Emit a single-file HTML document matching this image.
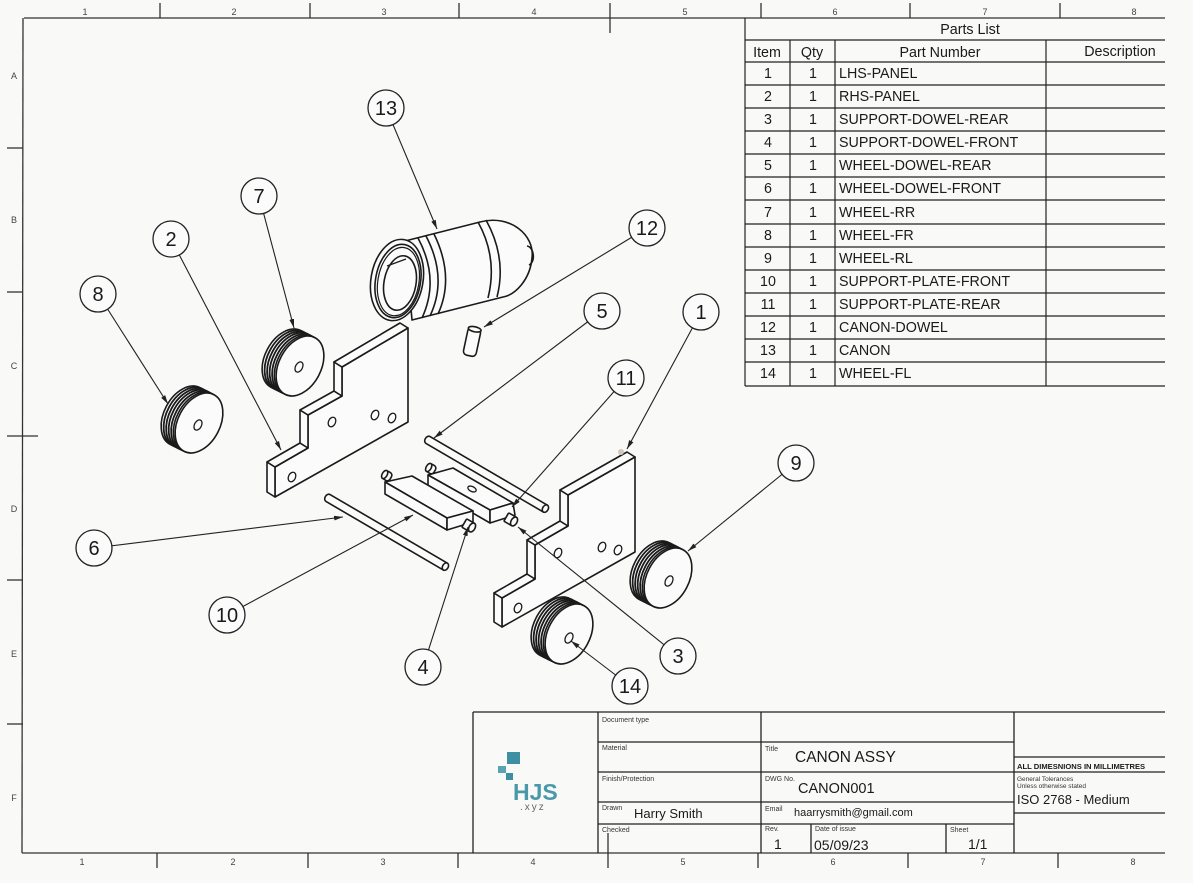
<!DOCTYPE html>
<html><head><meta charset="utf-8">
<style>
html,body{margin:0;padding:0;background:#f9f9f8;}
svg{display:block;font-family:"Liberation Sans",Arial,sans-serif;}
</style></head>
<body>
<svg width="1193" height="883" viewBox="0 0 1193 883" xmlns="http://www.w3.org/2000/svg">
<defs>
<marker id="ar" markerWidth="10" markerHeight="6" refX="9" refY="3" orient="auto" markerUnits="userSpaceOnUse">
<path d="M0,0.6 L9,3 L0,5.4 Z" fill="#222"/>
</marker>
</defs>
<rect width="1193" height="883" fill="#f9f9f8"/>

<!-- Frame -->
<g stroke="#333" stroke-width="1.3" fill="none">
<line x1="24" y1="18" x2="1165" y2="18"/>
<line x1="23" y1="18" x2="22" y2="853"/>
<line x1="22" y1="853" x2="1165" y2="853"/>
<line x1="160" y1="3" x2="160" y2="18"/>
<line x1="310" y1="3" x2="310" y2="18"/>
<line x1="459" y1="3" x2="459" y2="18"/>
<line x1="610" y1="3" x2="610" y2="33"/>
<line x1="761" y1="3" x2="761" y2="18"/>
<line x1="910" y1="3" x2="910" y2="18"/>
<line x1="1060" y1="3" x2="1060" y2="18"/>
<line x1="157" y1="853" x2="157" y2="868"/>
<line x1="308" y1="853" x2="308" y2="868"/>
<line x1="458" y1="853" x2="458" y2="868"/>
<line x1="608" y1="833" x2="608" y2="868"/>
<line x1="758" y1="853" x2="758" y2="868"/>
<line x1="908" y1="853" x2="908" y2="868"/>
<line x1="1058" y1="853" x2="1058" y2="868"/>
<line x1="7" y1="148" x2="23" y2="148"/>
<line x1="7" y1="292" x2="23" y2="292"/>
<line x1="7" y1="436" x2="38" y2="436"/>
<line x1="7" y1="580" x2="23" y2="580"/>
<line x1="7" y1="724" x2="23" y2="724"/>
</g>
<g font-size="9" fill="#444" text-anchor="middle">
<text x="85" y="15">1</text><text x="234" y="15">2</text><text x="384" y="15">3</text><text x="534" y="15">4</text>
<text x="685" y="15">5</text><text x="835" y="15">6</text><text x="985" y="15">7</text><text x="1134" y="15">8</text>
<text x="82" y="865">1</text><text x="233" y="865">2</text><text x="383" y="865">3</text><text x="533" y="865">4</text>
<text x="683" y="865">5</text><text x="833" y="865">6</text><text x="983" y="865">7</text><text x="1133" y="865">8</text>
<text x="14" y="79">A</text><text x="14" y="223">B</text><text x="14" y="369">C</text>
<text x="14" y="512">D</text><text x="14" y="657">E</text><text x="14" y="801">F</text>
</g>

<!-- Parts list -->
<g stroke="#222" stroke-width="1.2" fill="none">
<line x1="745" y1="18" x2="745" y2="386"/>
<line x1="790" y1="40" x2="790" y2="386"/>
<line x1="835" y1="40" x2="835" y2="386"/>
<line x1="1046" y1="40" x2="1046" y2="386"/>
<line x1="745" y1="40" x2="1165" y2="40"/>
<line x1="745" y1="62" x2="1165" y2="62"/>
<line x1="745" y1="85" x2="1165" y2="85"/>
<line x1="745" y1="108" x2="1165" y2="108"/>
<line x1="745" y1="131" x2="1165" y2="131"/>
<line x1="745" y1="154" x2="1165" y2="154"/>
<line x1="745" y1="177" x2="1165" y2="177"/>
<line x1="745" y1="200" x2="1165" y2="200"/>
<line x1="745" y1="224" x2="1165" y2="224"/>
<line x1="745" y1="247" x2="1165" y2="247"/>
<line x1="745" y1="270" x2="1165" y2="270"/>
<line x1="745" y1="293" x2="1165" y2="293"/>
<line x1="745" y1="316" x2="1165" y2="316"/>
<line x1="745" y1="339" x2="1165" y2="339"/>
<line x1="745" y1="362" x2="1165" y2="362"/>
<line x1="745" y1="386" x2="1165" y2="386"/>
</g>
<g font-size="14.3" fill="#1a1a1a">
<text x="970" y="34" text-anchor="middle">Parts List</text>
<text x="767" y="57" text-anchor="middle">Item</text>
<text x="812" y="57" text-anchor="middle">Qty</text>
<text x="940" y="57" text-anchor="middle">Part Number</text>
<text x="1120" y="56" text-anchor="middle">Description</text>
<g text-anchor="middle">
<text x="768" y="78">1</text><text x="768" y="101">2</text><text x="768" y="124">3</text><text x="768" y="147">4</text>
<text x="768" y="170">5</text><text x="768" y="193">6</text><text x="768" y="217">7</text><text x="768" y="240">8</text>
<text x="768" y="263">9</text><text x="768" y="286">10</text><text x="768" y="309">11</text><text x="768" y="332">12</text>
<text x="768" y="355">13</text><text x="768" y="378">14</text>
<text x="813" y="78">1</text><text x="813" y="101">1</text><text x="813" y="124">1</text><text x="813" y="147">1</text>
<text x="813" y="170">1</text><text x="813" y="193">1</text><text x="813" y="217">1</text><text x="813" y="240">1</text>
<text x="813" y="263">1</text><text x="813" y="286">1</text><text x="813" y="309">1</text><text x="813" y="332">1</text>
<text x="813" y="355">1</text><text x="813" y="378">1</text>
</g>
<text x="839" y="78">LHS-PANEL</text>
<text x="839" y="101">RHS-PANEL</text>
<text x="839" y="124">SUPPORT-DOWEL-REAR</text>
<text x="839" y="147">SUPPORT-DOWEL-FRONT</text>
<text x="839" y="170">WHEEL-DOWEL-REAR</text>
<text x="839" y="193">WHEEL-DOWEL-FRONT</text>
<text x="839" y="217">WHEEL-RR</text>
<text x="839" y="240">WHEEL-FR</text>
<text x="839" y="263">WHEEL-RL</text>
<text x="839" y="286">SUPPORT-PLATE-FRONT</text>
<text x="839" y="309">SUPPORT-PLATE-REAR</text>
<text x="839" y="332">CANON-DOWEL</text>
<text x="839" y="355">CANON</text>
<text x="839" y="378">WHEEL-FL</text>
</g>

<!-- Parts drawing -->
<g stroke="#1a1a1a" stroke-width="1.6" fill="#fbfbfb" stroke-linejoin="round">

<!-- Cannon 13 -->
<path d="M405,241 L480,222 C510,214 535,235 532,258 C530,280 515,295 503,297 L412,320 Z"/>
<path d="M527,246 C534,247 536,262 529,265" fill="none"/>
<path d="M478,222 Q498,258 488,298" fill="none"/>
<path d="M486,220 Q507,258 497,297" fill="none"/>
<path d="M418,238 Q440,279 422,318" fill="none"/>
<path d="M426,236 Q448,278 430,316" fill="none"/>
<path d="M434,234 Q455,277 438,314" fill="none"/>
<ellipse cx="397" cy="280" rx="26" ry="41" transform="rotate(10 397 280)"/>
<ellipse cx="398" cy="281" rx="22.5" ry="37" transform="rotate(10 398 281)" fill="none"/>
<ellipse cx="398.5" cy="281.5" rx="20.5" ry="34.5" transform="rotate(10 398 281)" fill="none" stroke-width="1.2"/>
<ellipse cx="400" cy="283" rx="16" ry="27.5" transform="rotate(10 400 283)"/>
<line x1="387" y1="266" x2="406" y2="259" stroke-width="1.2"/>

<!-- Dowel 12 -->
<g transform="translate(472,342) rotate(12)">
<rect x="-6.5" y="-14" width="13" height="28" rx="4"/>
<ellipse cx="0" cy="-13" rx="6.5" ry="2.5"/>
</g>

<!-- Wheel 7 -->
<g transform="translate(300,366)">
<ellipse cx="0" cy="0" rx="21" ry="32" transform="translate(-14 -7) rotate(28)"/>
<ellipse cx="0" cy="0" rx="21" ry="32" transform="translate(-11.5 -5.8) rotate(28)" stroke-width="1.8"/>
<ellipse cx="0" cy="0" rx="21" ry="32" transform="translate(-9 -4.5) rotate(28)" stroke-width="1.8"/>
<ellipse cx="0" cy="0" rx="21" ry="32" transform="translate(-6.5 -3.3) rotate(28)" stroke-width="1.8"/>
<ellipse cx="0" cy="0" rx="21" ry="32" transform="translate(-4 -2) rotate(28)" stroke-width="1.8"/>
<ellipse cx="0" cy="0" rx="21" ry="32" transform="translate(-1.8 -0.9) rotate(28)" stroke-width="1.6"/>
<ellipse cx="0" cy="0" rx="21" ry="32" transform="rotate(28)"/>
<ellipse cx="-1" cy="1" rx="3.5" ry="5.5" transform="rotate(28 -1 1)" stroke-width="1.3"/>
</g>
<!-- Wheel 8 -->
<g transform="translate(199,423)">
<ellipse cx="0" cy="0" rx="21" ry="32" transform="translate(-14 -7) rotate(28)"/>
<ellipse cx="0" cy="0" rx="21" ry="32" transform="translate(-11.5 -5.8) rotate(28)" stroke-width="1.8"/>
<ellipse cx="0" cy="0" rx="21" ry="32" transform="translate(-9 -4.5) rotate(28)" stroke-width="1.8"/>
<ellipse cx="0" cy="0" rx="21" ry="32" transform="translate(-6.5 -3.3) rotate(28)" stroke-width="1.8"/>
<ellipse cx="0" cy="0" rx="21" ry="32" transform="translate(-4 -2) rotate(28)" stroke-width="1.8"/>
<ellipse cx="0" cy="0" rx="21" ry="32" transform="translate(-1.8 -0.9) rotate(28)" stroke-width="1.6"/>
<ellipse cx="0" cy="0" rx="21" ry="32" transform="rotate(28)"/>
<ellipse cx="-1" cy="2" rx="3.5" ry="5.5" transform="rotate(28 -1 2)" stroke-width="1.3"/>
</g>

<!-- Panel 2 (RHS) -->
<polygon points="275,467 308,448 308,415 342,396 342,367 408,328 408,422 275,497"/>
<polygon points="275,467 275,497 267,492 267,462"/>
<polygon points="275,467 308,448 300,443 267,462"/>
<polygon points="308,448 308,415 300,410 300,443"/>
<polygon points="308,415 342,396 334,391 300,410"/>
<polygon points="342,396 342,367 334,362 334,391"/>
<polygon points="342,367 408,328 400,323 334,362"/>
<g stroke-width="1.3">
<ellipse cx="292" cy="477" rx="3.5" ry="5" transform="rotate(25 292 477)"/>
<ellipse cx="332" cy="422" rx="3.5" ry="5" transform="rotate(25 332 422)"/>
<ellipse cx="375" cy="415" rx="3.5" ry="5" transform="rotate(25 375 415)"/>
<ellipse cx="392" cy="418" rx="3.5" ry="5" transform="rotate(25 392 418)"/>
</g>

<!-- Dowel 5 -->
<g transform="translate(428,440) rotate(30.3)">
<path d="M0,-4 L136,-4 L136,4 L0,4 A3,4 0 0 1 0,-4 Z"/>
<ellipse cx="136" cy="0" rx="2.8" ry="4"/>
</g>

<!-- Plate 11 -->
<polygon points="428,475 453,468 513,503 490,510"/>
<polygon points="428,475 490,510 490,523 428,487"/>
<polygon points="490,510 513,503 515,515 490,523"/>
<ellipse cx="472" cy="489" rx="4.5" ry="2.5" transform="rotate(25 472 489)" stroke-width="1.3"/>
<g transform="translate(433,470) rotate(30)"><rect x="-6" y="-4.5" width="8" height="9" rx="3"/><ellipse cx="-5" cy="0" rx="2.5" ry="4.5"/></g>
<g transform="translate(508,518) rotate(30)"><rect x="-2" y="-4.8" width="9" height="9.6" rx="1"/><ellipse cx="7" cy="0" rx="3" ry="4.8"/></g>

<!-- Plate 10 -->
<polygon points="385,482 412,476 473,511 447,518"/>
<polygon points="385,482 447,518 447,530 385,494"/>
<polygon points="447,518 473,511 473,522 447,530"/>
<g transform="translate(389,477) rotate(30)"><rect x="-6" y="-4.5" width="8" height="9" rx="3"/><ellipse cx="-5" cy="0" rx="2.5" ry="4.5"/></g>
<g transform="translate(466,524) rotate(30)"><rect x="-2" y="-4.8" width="9" height="9.6" rx="1"/><ellipse cx="7" cy="0" rx="3" ry="4.8"/></g>

<!-- Dowel 6 -->
<g transform="translate(328,498) rotate(30.3)">
<path d="M0,-4 L136,-4 L136,4 L0,4 A3,4 0 0 1 0,-4 Z"/>
<ellipse cx="136" cy="0" rx="2.8" ry="4"/>
</g>

<!-- Panel 1 (LHS) -->
<polygon points="502,598 535,579 535,545 568,526 568,495 635,457 635,552 502,627"/>
<polygon points="502,598 502,627 494,622 494,593"/>
<polygon points="502,598 535,579 527,574 494,593"/>
<polygon points="535,579 535,545 527,540 527,574"/>
<polygon points="535,545 568,526 560,521 527,540"/>
<polygon points="568,526 568,495 560,490 560,521"/>
<polygon points="568,495 635,457 627,452 560,490"/>
<g stroke-width="1.3">
<ellipse cx="518" cy="608" rx="3.5" ry="5" transform="rotate(25 518 608)"/>
<ellipse cx="558" cy="553" rx="3.5" ry="5" transform="rotate(25 558 553)"/>
<ellipse cx="602" cy="547" rx="3.5" ry="5" transform="rotate(25 602 547)"/>
<ellipse cx="618" cy="550" rx="3.5" ry="5" transform="rotate(25 618 550)"/>
</g>
<circle cx="621" cy="452" r="3" fill="#cfc8bd" stroke="none"/>

<!-- Wheel 9 -->
<g transform="translate(668,578)">
<ellipse cx="0" cy="0" rx="21" ry="32" transform="translate(-14 -7) rotate(28)"/>
<ellipse cx="0" cy="0" rx="21" ry="32" transform="translate(-11.5 -5.8) rotate(28)" stroke-width="1.8"/>
<ellipse cx="0" cy="0" rx="21" ry="32" transform="translate(-9 -4.5) rotate(28)" stroke-width="1.8"/>
<ellipse cx="0" cy="0" rx="21" ry="32" transform="translate(-6.5 -3.3) rotate(28)" stroke-width="1.8"/>
<ellipse cx="0" cy="0" rx="21" ry="32" transform="translate(-4 -2) rotate(28)" stroke-width="1.8"/>
<ellipse cx="0" cy="0" rx="21" ry="32" transform="translate(-1.8 -0.9) rotate(28)" stroke-width="1.6"/>
<ellipse cx="0" cy="0" rx="21" ry="32" transform="rotate(28)"/>
<ellipse cx="1" cy="3" rx="3.5" ry="5.5" transform="rotate(28 1 3)" stroke-width="1.3"/>
</g>
<!-- Wheel 14 -->
<g transform="translate(569,634)">
<ellipse cx="0" cy="0" rx="21" ry="32" transform="translate(-14 -7) rotate(28)"/>
<ellipse cx="0" cy="0" rx="21" ry="32" transform="translate(-11.5 -5.8) rotate(28)" stroke-width="1.8"/>
<ellipse cx="0" cy="0" rx="21" ry="32" transform="translate(-9 -4.5) rotate(28)" stroke-width="1.8"/>
<ellipse cx="0" cy="0" rx="21" ry="32" transform="translate(-6.5 -3.3) rotate(28)" stroke-width="1.8"/>
<ellipse cx="0" cy="0" rx="21" ry="32" transform="translate(-4 -2) rotate(28)" stroke-width="1.8"/>
<ellipse cx="0" cy="0" rx="21" ry="32" transform="translate(-1.8 -0.9) rotate(28)" stroke-width="1.6"/>
<ellipse cx="0" cy="0" rx="21" ry="32" transform="rotate(28)"/>
<ellipse cx="0" cy="4" rx="3.5" ry="5.5" transform="rotate(28 0 4)" stroke-width="1.3"/>
</g>
</g>

<!-- Leaders -->
<g stroke="#222" stroke-width="1.1" fill="none" marker-end="url(#ar)">
<line x1="386" y1="108" x2="437" y2="229"/>
<line x1="259" y1="196" x2="294" y2="328"/>
<line x1="171" y1="239" x2="281" y2="450"/>
<line x1="98" y1="294" x2="168" y2="404"/>
<line x1="647" y1="228" x2="484" y2="327"/>
<line x1="602" y1="311" x2="434" y2="438"/>
<line x1="701" y1="312" x2="627" y2="449"/>
<line x1="626" y1="378" x2="512" y2="507"/>
<line x1="796" y1="463" x2="688" y2="551"/>
<line x1="94" y1="548" x2="343" y2="517"/>
<line x1="227" y1="615" x2="413" y2="515"/>
<line x1="423" y1="667" x2="468" y2="527"/>
<line x1="678" y1="656" x2="518" y2="527"/>
<line x1="630" y1="686" x2="571" y2="641"/>
</g>

<!-- Balloons -->
<g stroke="#222" stroke-width="1.3" fill="#fbfbfb">
<circle cx="386" cy="108" r="18"/><circle cx="259" cy="196" r="18"/><circle cx="171" cy="239" r="18"/>
<circle cx="98" cy="294" r="18"/><circle cx="647" cy="228" r="18"/><circle cx="602" cy="311" r="18"/>
<circle cx="701" cy="312" r="18"/><circle cx="626" cy="378" r="18"/><circle cx="796" cy="463" r="18"/>
<circle cx="94" cy="548" r="18"/><circle cx="227" cy="615" r="18"/><circle cx="423" cy="667" r="18"/>
<circle cx="678" cy="656" r="18"/><circle cx="630" cy="686" r="18"/>
</g>
<g font-size="20" fill="#1a1a1a" text-anchor="middle">
<text x="386" y="115">13</text><text x="259" y="203">7</text><text x="171" y="246">2</text>
<text x="98" y="301">8</text><text x="647" y="235">12</text><text x="602" y="318">5</text>
<text x="701" y="319">1</text><text x="626" y="385">11</text><text x="796" y="470">9</text>
<text x="94" y="555">6</text><text x="227" y="622">10</text><text x="423" y="674">4</text>
<text x="678" y="663">3</text><text x="630" y="693">14</text>
</g>

<!-- Title block -->
<g stroke="#222" stroke-width="1.3" fill="none">
<line x1="473" y1="712" x2="1165" y2="712"/>
<line x1="473" y1="712" x2="473" y2="853"/>
<line x1="598" y1="712" x2="598" y2="853"/>
<line x1="761" y1="712" x2="761" y2="853"/>
<line x1="1014" y1="712" x2="1014" y2="853"/>
<line x1="598" y1="742" x2="1014" y2="742"/>
<line x1="598" y1="772" x2="1014" y2="772"/>
<line x1="598" y1="802" x2="1014" y2="802"/>
<line x1="598" y1="824" x2="1014" y2="824"/>
<line x1="811" y1="824" x2="811" y2="853"/>
<line x1="946" y1="824" x2="946" y2="853"/>
<line x1="1014" y1="757" x2="1165" y2="757"/>
<line x1="1014" y1="772" x2="1165" y2="772"/>
<line x1="1014" y1="813" x2="1165" y2="813"/>
</g>
<g fill="#333" font-size="7">
<text x="602" y="722">Document type</text>
<text x="602" y="750">Material</text>
<text x="602" y="781">Finish/Protection</text>
<text x="602" y="810">Drawn</text>
<text x="602" y="832">Checked</text>
<text x="765" y="751">Title</text>
<text x="765" y="781">DWG No.</text>
<text x="765" y="811">Email</text>
<text x="765" y="831">Rev.</text>
<text x="815" y="831">Date of issue</text>
<text x="950" y="832">Sheet</text>
<text x="1017" y="781" font-size="6.5">General Tolerances</text>
<text x="1017" y="788" font-size="6.5">Unless otherwise stated</text>
</g>
<g fill="#1a1a1a">
<text x="634" y="818" font-size="13">Harry Smith</text>
<text x="795" y="762" font-size="15.5">CANON ASSY</text>
<text x="798" y="793" font-size="14.5">CANON001</text>
<text x="794" y="816" font-size="11">haarrysmith@gmail.com</text>
<text x="774" y="849" font-size="14">1</text>
<text x="814" y="850" font-size="14">05/09/23</text>
<text x="968" y="849" font-size="14">1/1</text>
<text x="1017" y="769" font-size="7.6" font-weight="bold">ALL DIMESNIONS IN MILLIMETRES</text>
<text x="1017" y="804" font-size="13">ISO 2768 - Medium</text>
</g>
<!-- Logo -->
<g fill="#3f8fa2">
<rect x="507" y="752" width="13" height="12"/>
<rect x="498" y="766" width="8" height="7" fill="#5aa3b3"/>
<rect x="506" y="773" width="7" height="7"/>
</g>
<text x="513" y="800" font-size="23" font-weight="bold" fill="#4a98aa">HJS</text>
<text x="520" y="810" font-size="10" fill="#666" letter-spacing="2">.xyz</text>
</svg>
</body></html>
